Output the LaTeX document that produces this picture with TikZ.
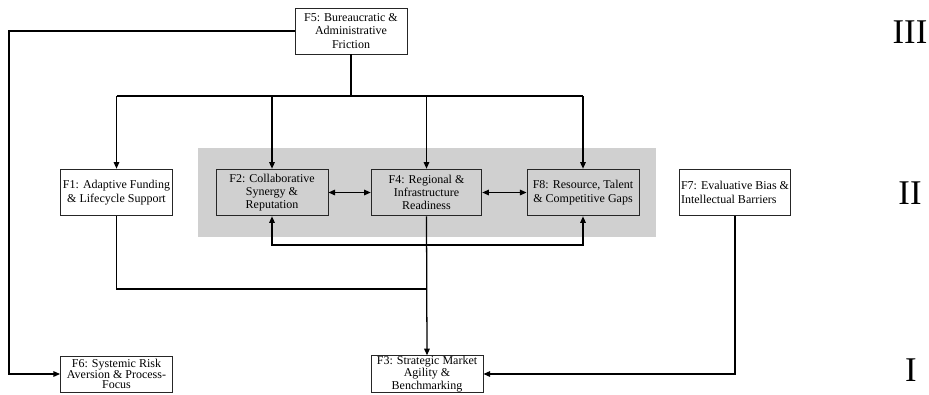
\documentclass[tikz,border=0pt]{standalone}
\usepackage{fontspec}
\setmainfont{Liberation Serif}
\usetikzlibrary{arrows.meta}
\begin{document}
\begin{tikzpicture}[x=0.75pt,y=-0.75pt,
  box/.style={draw=black!85,line width=0.7pt,fill=white,align=center,inner sep=1pt,
    font=\fontsize{9}{10}\selectfont,minimum width=84pt},
  gbox/.style={box,fill=grayfill},
  lowbox/.style={box,font=\fontsize{9}{8.1}\selectfont,inner xsep=1pt,inner ysep=0.4pt,minimum height=27pt},
  conn/.style={line width=0.95pt,black},
  arr/.style={conn,-{Triangle[length=5pt,width=4.2pt]}},
  arrs/.style={conn,{Triangle[length=5pt,width=4.2pt]}-{Triangle[length=5pt,width=4.2pt]}},
  roman/.style={font=\fontsize{26}{30}\selectfont,inner sep=0pt}]
\definecolor{grayfill}{RGB}{208,208,208}
\useasboundingbox (0,0) rectangle (929,394);
% gray band
\fill[grayfill] (198,148) rectangle (656,237);
% nodes
\node[box,minimum height=34.5pt] (F5) at (351,31) {F5: Bureaucratic \&\\Administrative\\Friction};
\node[box,minimum height=35pt] (F1) at (116.5,192.5) {F1: Adaptive Funding\\\& Lifecycle Support};
\node[gbox,minimum height=35pt] (F2) at (272,192.5) {F2: Collaborative\\Synergy \&\\Reputation};
\node[gbox,minimum height=35pt,minimum width=83pt] (F4) at (426.5,192.5) {F4: Regional \&\\Infrastructure\\Readiness};
\node[gbox,minimum height=35pt] (F8) at (583,192.5) {F8: Resource, Talent\\\& Competitive Gaps};
\node[box,minimum height=35pt,minimum width=81pt,align=left] (F7) at (735,192.5) {F7: Evaluative Bias \&\\Intellectual Barriers};
\node[lowbox] (F6) at (116.5,374) {F6: Systemic Risk\\Aversion \& Process-\\Focus};
\node[lowbox] (F3) at (427,374) {F3: Strategic Market\\Agility \&\\Benchmarking};
% roman numerals
\node[roman] (R3) at (910,32) {III};
\node[roman] (R2) at (910,193) {II};
\node[roman] (R1) at (911,370) {I};
% coordinates
\coordinate (bus) at (351,96);
\coordinate (L) at (9,0);
\coordinate (low) at (0,245);
\coordinate (j) at (426.5,289);
% F5 distribution
\draw[conn] (F5.south) -- (bus);
\draw[conn] (F1.north |- bus) -- (F8.north |- bus);
\draw[arr] (F1.north |- bus) -- (F1.north);
\draw[arr] (F2.north |- bus) -- (F2.north);
\draw[arr] (F4.north |- bus) -- (F4.north);
\draw[arr] (F8.north |- bus) -- (F8.north);
% F5 to F6
\draw[arr] (F5.west) -- (F5.west -| L) |- (F6.west);
% mutual links
\draw[arrs] (F2.east) -- (F4.west);
\draw[arrs] (F4.east) -- (F8.west);
\draw[arrs] (F2.south) -- (F2.south |- low) -- (F8.south |- low) -- (F8.south);
% to F3
\draw[conn] (F1.south) |- (j);
\draw[arr] (F4.south) -- (F3.north);
\draw[arr] (F7.south) |- (F3.east);
\end{tikzpicture}
\end{document}
